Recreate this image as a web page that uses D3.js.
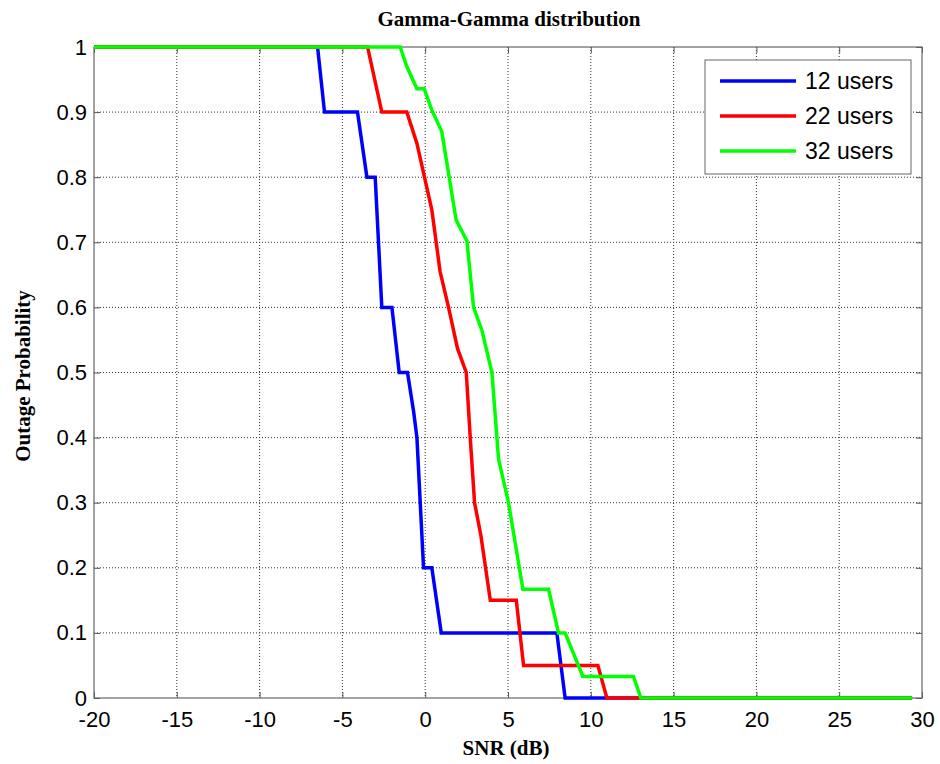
<!DOCTYPE html>
<html>
<meta charset="utf-8">
<head>
<title>Gamma-Gamma distribution</title>
<script src="https://cdnjs.cloudflare.com/ajax/libs/d3/7.8.5/d3.min.js"></script>
<style>
    body { margin: 0; background: #fff; }
</style>
</head>

<body>
<script>

const width = 940,
    height = 764;

// SNR (dB) / outage probability pairs
const snr12 = [-20, -6.5, -6.08, -4.09, -3.52, -3.02, -2.62, -2.01, -1.57, -1.07, -0.7, -0.5, -0.1, 0.4, 0.97, 7.95, 8.45, 29.4];
const out12 = [1, 1, 0.9, 0.9, 0.8, 0.8, 0.6, 0.6, 0.5, 0.5, 0.44, 0.4, 0.2, 0.2, 0.1, 0.1, 0, 0];

const snr22 = [-20, -3.48, -2.62, -1.11, -0.5, 0.4, 0.9, 1.41, 1.95, 2.48, 2.72, 2.98, 3.36, 3.93, 5.5, 5.94, 10.43, 10.97, 29.4];
const out22 = [1, 1, 0.9, 0.9, 0.852, 0.75, 0.655, 0.6, 0.537, 0.5, 0.4, 0.3, 0.25, 0.15, 0.15, 0.05, 0.05, 0, 0];

const snr32 = [-20, -1.51, -1.11, -0.5, -0.06, 0.4, 1.0, 1.87, 2.52, 2.92, 3.42, 4.03, 4.43, 5.03, 5.9, 7.45, 8.05, 8.45, 9.52, 12.58, 13.02, 29.4];
const out32 = [1, 1, 0.97, 0.936, 0.936, 0.903, 0.87, 0.734, 0.702, 0.6, 0.565, 0.5, 0.367, 0.3, 0.167, 0.167, 0.1, 0.1, 0.033, 0.033, 0, 0];

const seriesNames = ["12 users", "22 users", "32 users"];
const seriesColours = ["#0000ff", "#ff0000", "#00ff00"];

const xTicks = [-20, -15, -10, -5, 0, 5, 10, 15, 20, 25, 30];
const yTicks = [0, 0.1, 0.2, 0.3, 0.4, 0.5, 0.6, 0.7, 0.8, 0.9, 1];

const series = [
    snr12.map((s, i) => [s, out12[i]]),
    snr22.map((s, i) => [s, out22[i]]),
    snr32.map((s, i) => [s, out32[i]])
];

const plotLeft = 94, plotRight = 922, plotTop = 47, plotBottom = 698;

const svg = d3.select("body")
    .append("svg")
    .attr("width", width)
    .attr("height", height);

const x = d3.scaleLinear().domain([-20, 30]).range([plotLeft, plotRight]);
const y = d3.scaleLinear().domain([0, 1]).range([plotBottom, plotTop]);

// Dotted grid
svg.selectAll("line.gx")
    .data(xTicks.slice(1, -1))
    .enter()
    .append("line")
    .attr("x1", d => x(d)).attr("x2", d => x(d))
    .attr("y1", plotTop).attr("y2", plotBottom)
    .attr("stroke", "#333")
    .attr("stroke-width", 1)
    .attr("stroke-dasharray", "1,2");
svg.selectAll("line.gy")
    .data(yTicks.slice(1, -1))
    .enter()
    .append("line")
    .attr("x1", plotLeft).attr("x2", plotRight)
    .attr("y1", d => y(d)).attr("y2", d => y(d))
    .attr("stroke", "#333")
    .attr("stroke-width", 1)
    .attr("stroke-dasharray", "1,2");

// Axes with inward ticks on all four sides (plain hyphen for negatives, like the original)
const tickSize = 6;
svg.append("g")
    .attr("transform", `translate(0,${plotBottom})`)
    .call(d3.axisBottom(x).tickValues(xTicks).tickSize(-tickSize).tickPadding(13).tickFormat(d => String(d)))
    .call(g => g.select(".domain").remove());
svg.append("g")
    .attr("transform", `translate(0,${plotTop})`)
    .call(d3.axisTop(x).tickValues(xTicks).tickSize(-tickSize).tickFormat(""))
    .call(g => g.select(".domain").remove());
svg.append("g")
    .attr("transform", `translate(${plotLeft},0)`)
    .call(d3.axisLeft(y).tickValues(yTicks).tickSize(-tickSize).tickPadding(7).tickFormat(d => String(d)))
    .call(g => g.select(".domain").remove());
svg.append("g")
    .attr("transform", `translate(${plotRight},0)`)
    .call(d3.axisRight(y).tickValues(yTicks).tickSize(-tickSize).tickFormat(""))
    .call(g => g.select(".domain").remove());

svg.selectAll(".tick line").attr("stroke", "#555");
svg.selectAll(".tick text")
    .attr("font-family", "Liberation Sans, Arial, sans-serif")
    .attr("font-size", "22px")
    .attr("fill", "#000");

svg.append("rect")
    .attr("x", plotLeft).attr("y", plotTop)
    .attr("width", plotRight - plotLeft).attr("height", plotBottom - plotTop)
    .attr("fill", "none")
    .attr("stroke", "#666")
    .attr("stroke-width", 1.2);

// Curves
const line = d3.line().x(d => x(d[0])).y(d => y(d[1]));
svg.selectAll("path.curve")
    .data(series)
    .enter()
    .append("path")
    .attr("class", "curve")
    .attr("d", line)
    .attr("fill", "none")
    .attr("stroke", (d, i) => seriesColours[i])
    .attr("stroke-width", 3.5)
    .attr("stroke-linejoin", "miter");

// Legend
const legend = svg.append("g").attr("transform", "translate(705,60)");
legend.append("rect")
    .attr("width", 206).attr("height", 114)
    .attr("fill", "#fff")
    .attr("stroke", "#666")
    .attr("stroke-width", 1);
legend.selectAll("line")
    .data(seriesNames)
    .enter()
    .append("line")
    .attr("x1", 15).attr("x2", 91)
    .attr("y1", (d, i) => 21 + i * 35)
    .attr("y2", (d, i) => 21 + i * 35)
    .attr("stroke", (d, i) => seriesColours[i])
    .attr("stroke-width", 3.5);
legend.selectAll("text")
    .data(seriesNames)
    .enter()
    .append("text")
    .attr("x", 100)
    .attr("y", (d, i) => 29 + i * 35)
    .text(d => d)
    .attr("font-family", "Liberation Sans, Arial, sans-serif")
    .attr("font-size", "23px");

// Title and axis labels
svg.append("text")
    .attr("x", 509).attr("y", 26)
    .attr("text-anchor", "middle")
    .text("Gamma-Gamma distribution")
    .attr("font-family", "Liberation Serif, Times New Roman, serif")
    .attr("font-weight", "bold")
    .attr("font-size", "21px");
svg.append("text")
    .attr("x", 506).attr("y", 755)
    .attr("text-anchor", "middle")
    .text("SNR (dB)")
    .attr("font-family", "Liberation Serif, Times New Roman, serif")
    .attr("font-weight", "bold")
    .attr("font-size", "21px");
svg.append("text")
    .attr("transform", "translate(30,376) rotate(-90)")
    .attr("text-anchor", "middle")
    .text("Outage Probability")
    .attr("font-family", "Liberation Serif, Times New Roman, serif")
    .attr("font-weight", "bold")
    .attr("font-size", "21px");

</script>

</body>
</html>
